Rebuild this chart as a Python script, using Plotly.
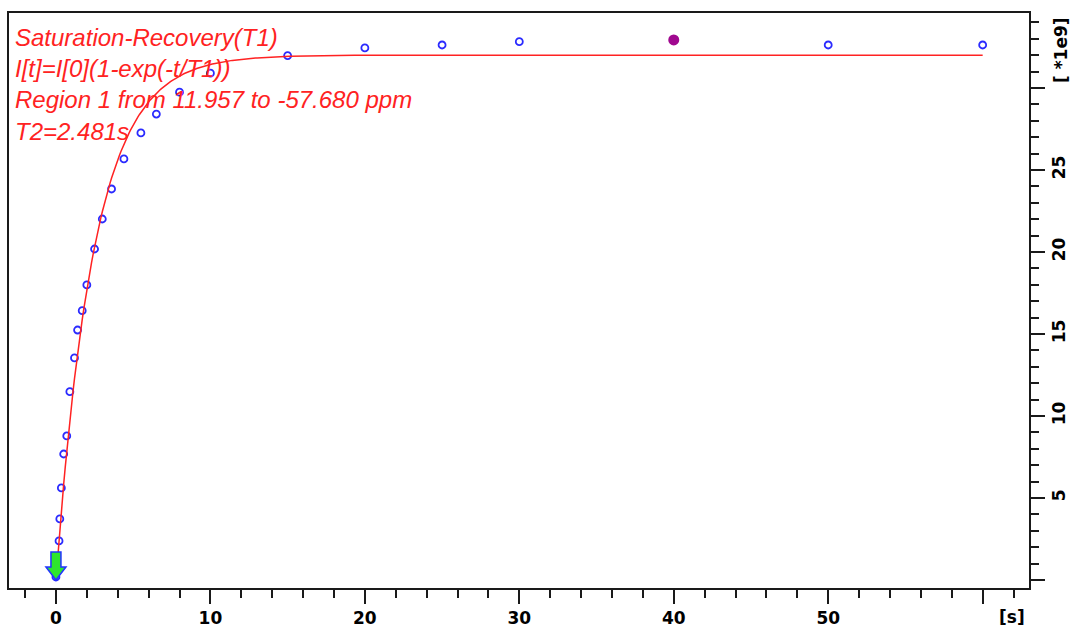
import numpy as np
import plotly.graph_objects as go

# ---- data (intensity in units of 1e9) ----
delay_s = [0, 0.2, 0.25, 0.35, 0.5, 0.7, 0.9, 1.2, 1.4, 1.7, 2.0, 2.5, 3.0, 3.6,
           4.4, 5.5, 6.5, 8.0, 10, 15, 20, 25, 30, 40, 50, 60]
intensity = [0.18, 2.38, 3.72, 5.61, 7.68, 8.78, 11.48, 13.54, 15.24, 16.42, 17.99,
             20.18, 22.01, 23.84, 25.67, 27.26, 28.41, 29.74, 30.9, 31.97, 32.44,
             32.62, 32.82, 32.93, 32.62, 32.62]
selected_index = 23          # the highlighted (filled) point, t = 40 s

# fit parameters of I(t) = I0 (1 - exp(-t/T1))
fit_I0 = 32.0
fit_T1 = 2.481
fit_tmax = 60

x_major = [0, 10, 20, 30, 40, 50, 60]
x_labels = ["0", "10", "20", "30", "40", "50", ""]
y_major = [0, 5, 10, 15, 20, 25, 30]
y_labels = ["", "5", "10", "15", "20", "25", ""]

info_lines = ["Saturation-Recovery(T1)",
              "I[t]=I[0](1-exp(-t/T1))",
              "Region 1 from 11.957 to -57.680 ppm",
              "T2=2.481s"]

# ---- figure ----
AX = "#1a1a1a"
tick_font = dict(family="DejaVu Sans", size=17, color="black", weight="bold")

t_fit = np.linspace(0, fit_tmax, 600)
i_fit = fit_I0 * (1 - np.exp(-t_fit / fit_T1))

others = [i for i in range(len(delay_s)) if i != selected_index]

fig = go.Figure()
fig.add_trace(go.Scatter(
    x=[delay_s[i] for i in others], y=[intensity[i] for i in others],
    mode="markers",
    marker=dict(symbol="circle-open", size=7, color="#2b2bff", line=dict(width=1.8, color="#2b2bff")),
    hoverinfo="x+y", showlegend=False))
fig.add_trace(go.Scatter(
    x=t_fit, y=i_fit, mode="lines",
    line=dict(color="#ff2222", width=1.5), hoverinfo="skip", showlegend=False))
fig.add_trace(go.Scatter(
    x=[delay_s[selected_index]], y=[intensity[selected_index]], mode="markers",
    marker=dict(symbol="circle", size=11, color="#a0088f"),
    showlegend=False))

# green marker arrow at the first delay
fig.add_shape(type="path", xref="x", yref="y", xsizemode="pixel", ysizemode="pixel",
              xanchor=delay_s[0], yanchor=0,
              path="M -5,28 L 5,28 L 5,13 L 10,13 L 0,0 L -10,13 L -5,13 Z",
              fillcolor="#2ee62e", line=dict(color="#2233ff", width=1.5))

fig.add_annotation(text="<br>".join(info_lines), xref="paper", yref="paper",
                   x=0, y=1, xanchor="left", yanchor="top", align="left",
                   xshift=4, yshift=-9, showarrow=False,
                   font=dict(family="Liberation Sans", size=24, color="#ff2222", style="italic"))
fig.add_annotation(text="[s]", xref="x", yref="paper", x=61.9, y=0,
                   yanchor="middle", yshift=-29, showarrow=False, font=tick_font)
fig.add_annotation(text="[ *1e9]", xref="paper", yref="paper", x=1, y=1,
                   xanchor="center", yanchor="middle", xshift=32, yshift=-37,
                   textangle=-90, showarrow=False, font=tick_font)

fig.update_layout(
    width=1073, height=629,
    margin=dict(l=9, r=44, t=13, b=41, autoexpand=False),
    paper_bgcolor="white", plot_bgcolor="white",
    xaxis=dict(range=[-3.04, 63.0], tickmode="array", tickvals=x_major, ticktext=x_labels,
               automargin=False,
               ticks="outside", ticklen=14, tickwidth=2, tickcolor=AX,
               showline=True, linewidth=2, linecolor=AX, mirror=True,
               showgrid=False, zeroline=False, tickfont=tick_font,
               minor=dict(tick0=0, dtick=2, ticks="outside", ticklen=8, tickwidth=1.5,
                          tickcolor=AX, showgrid=False)),
    yaxis=dict(range=[-0.49, 34.57], side="right", tickmode="array", tickvals=y_major,
               ticktext=y_labels, tickangle=-90, automargin=False,
               ticks="outside", ticklen=14, tickwidth=2, tickcolor=AX,
               showline=True, linewidth=2, linecolor=AX, mirror=True,
               showgrid=False, zeroline=False, tickfont=tick_font,
               minor=dict(tick0=0, dtick=1, ticks="outside", ticklen=8, tickwidth=1.5,
                          tickcolor=AX, showgrid=False)),
)

fig.write_html("out.html", config={"displayModeBar": False},
               post_script="document.body.style.margin='0';")
